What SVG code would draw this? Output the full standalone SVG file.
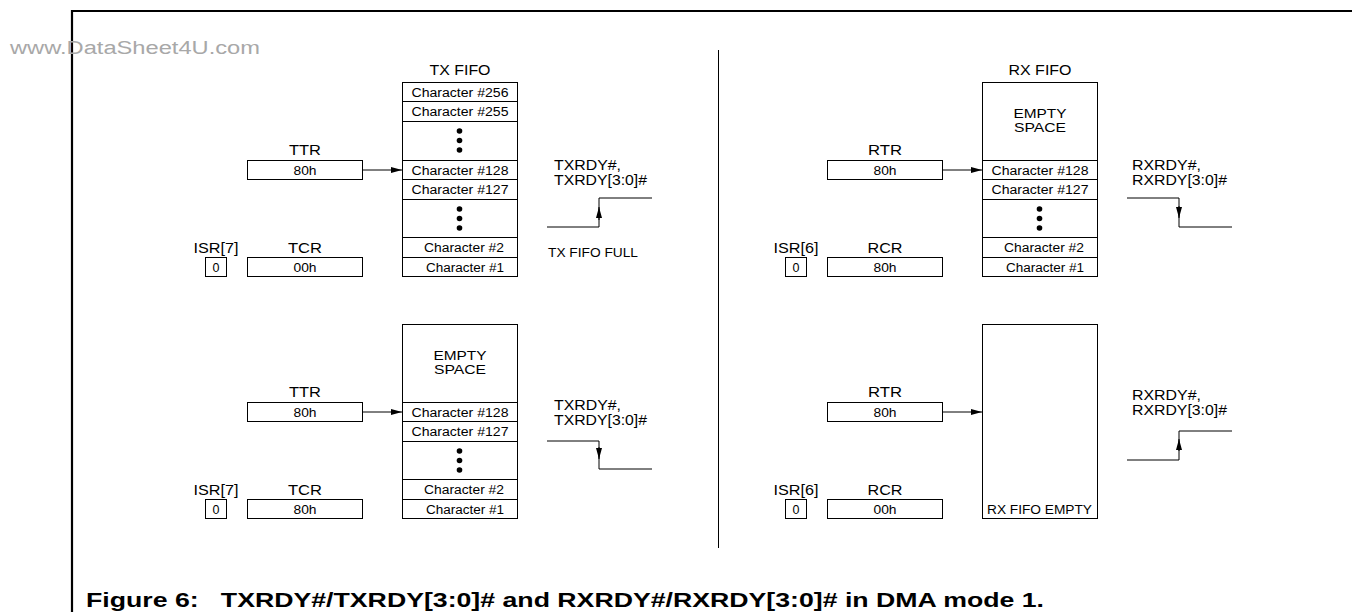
<svg xmlns="http://www.w3.org/2000/svg" width="1352" height="612" viewBox="0 0 1352 612">
<defs>
<style>
text{font-family:"Liberation Sans",Arial,Helvetica,sans-serif;fill:#000}
.box{fill:#fff;stroke:#000;stroke-width:1}
.ln{fill:none;stroke:#000;stroke-width:1}
.frame{fill:none;stroke:#000;stroke-width:2.2}
.ch{font-size:12.5px;text-anchor:middle}
.lbl{font-size:15px;text-anchor:middle}
.sig{font-size:15px}
.sm{font-size:12.5px}
.es{font-size:12px;text-anchor:middle}
.dot{fill:#000}
.wm{font-size:18px;fill:#a8a8a8}
.cap{font-size:21px;font-weight:bold;white-space:pre}
</style>
<marker id="ah" markerUnits="userSpaceOnUse" markerWidth="11" markerHeight="6" refX="11" refY="3" orient="auto"><path d="M0,0 L11,3 L0,6 z" fill="#000"/></marker>
</defs>
<rect x="0" y="0" width="1352" height="612" fill="#fff"/>
<path class="frame" d="M71,11 H1352 M72,10 V612"/>
<text class="wm" x="10" y="54" textLength="250" lengthAdjust="spacingAndGlyphs">www.DataSheet4U.com</text>
<line class="ln" x1="718.5" y1="50" x2="718.5" y2="548"/>

<!-- TX FIFO full (top left) -->
<g id="tx-top">
<text class="lbl" x="460" y="75" textLength="61" lengthAdjust="spacingAndGlyphs">TX FIFO</text>
<rect class="box" x="402.5" y="82.5" width="115" height="194"/>
<path class="ln" d="M402.5,101.5H517.5M402.5,121.5H517.5M402.5,160.5H517.5M402.5,179.5H517.5M402.5,199.5H517.5M402.5,237.5H517.5M402.5,257.5H517.5"/>
<text class="ch" x="460" y="96.5" textLength="97" lengthAdjust="spacingAndGlyphs">Character #256</text>
<text class="ch" x="460" y="116" textLength="97" lengthAdjust="spacingAndGlyphs">Character #255</text>
<circle class="dot" cx="459.5" cy="131" r="2.8"/><circle class="dot" cx="459.5" cy="140.5" r="2.8"/><circle class="dot" cx="459.5" cy="150" r="2.8"/>
<text class="ch" x="460" y="174.5" textLength="97" lengthAdjust="spacingAndGlyphs">Character #128</text>
<text class="ch" x="460" y="194" textLength="97" lengthAdjust="spacingAndGlyphs">Character #127</text>
<circle class="dot" cx="459.5" cy="209" r="2.8"/><circle class="dot" cx="459.5" cy="218.5" r="2.8"/><circle class="dot" cx="459.5" cy="228" r="2.8"/>
<text class="ch" x="464" y="252" textLength="80" lengthAdjust="spacingAndGlyphs">Character #2</text>
<text class="ch" x="465" y="271.5" textLength="78" lengthAdjust="spacingAndGlyphs">Character #1</text>
</g>
<g id="ttr-top">
<text class="lbl" x="305" y="155" textLength="32" lengthAdjust="spacingAndGlyphs">TTR</text>
<rect class="box" x="247.5" y="160.5" width="115" height="19"/>
<text class="ch" x="305" y="174.5" textLength="23" lengthAdjust="spacingAndGlyphs">80h</text>
</g>
<g id="tcr-top">
<text class="lbl" x="305" y="252.5" textLength="34" lengthAdjust="spacingAndGlyphs">TCR</text>
<rect class="box" x="247.5" y="257.5" width="115" height="19"/>
<text class="ch" x="305" y="271.5" textLength="23" lengthAdjust="spacingAndGlyphs">00h</text>
</g>
<g id="isr7-top">
<text class="lbl" x="216" y="252.5" textLength="45" lengthAdjust="spacingAndGlyphs">ISR[7]</text>
<rect class="box" x="205.5" y="257.5" width="21" height="19"/>
<text class="ch" x="216" y="271.5">0</text>
</g>
<g id="txrdy-top">
<text class="sig" x="554" y="170" textLength="67" lengthAdjust="spacingAndGlyphs">TXRDY#,</text>
<text class="sig" x="554" y="185" textLength="93" lengthAdjust="spacingAndGlyphs">TXRDY[3:0]#</text>
<polyline class="ln" points="547,227 599,227 599,198 652,198"/>
<path class="ln" d="M599,220V207" marker-end="url(#ah)"/>
<text class="sm" x="548" y="257" textLength="90" lengthAdjust="spacingAndGlyphs">TX FIFO FULL</text>
</g>

<!-- TX bottom -->
<g id="tx-bottom">
<rect class="box" x="402.5" y="324.5" width="115" height="194"/>
<path class="ln" d="M402.5,402.5H517.5M402.5,421.5H517.5M402.5,441.5H517.5M402.5,479.5H517.5M402.5,499.5H517.5"/>
<text class="es" x="460" y="360" textLength="53" lengthAdjust="spacingAndGlyphs">EMPTY</text>
<text class="es" x="460" y="374" textLength="52" lengthAdjust="spacingAndGlyphs">SPACE</text>
<text class="ch" x="460" y="416.5" textLength="97" lengthAdjust="spacingAndGlyphs">Character #128</text>
<text class="ch" x="460" y="436" textLength="97" lengthAdjust="spacingAndGlyphs">Character #127</text>
<circle class="dot" cx="459.5" cy="451" r="2.8"/><circle class="dot" cx="459.5" cy="460.5" r="2.8"/><circle class="dot" cx="459.5" cy="470" r="2.8"/>
<text class="ch" x="464" y="494" textLength="80" lengthAdjust="spacingAndGlyphs">Character #2</text>
<text class="ch" x="465" y="513.5" textLength="78" lengthAdjust="spacingAndGlyphs">Character #1</text>
</g>
<g id="ttr-bottom">
<text class="lbl" x="305" y="397" textLength="32" lengthAdjust="spacingAndGlyphs">TTR</text>
<rect class="box" x="247.5" y="402.5" width="115" height="19"/>
<text class="ch" x="305" y="416.5" textLength="23" lengthAdjust="spacingAndGlyphs">80h</text>
</g>
<g id="tcr-bottom">
<text class="lbl" x="305" y="494.5" textLength="34" lengthAdjust="spacingAndGlyphs">TCR</text>
<rect class="box" x="247.5" y="499.5" width="115" height="19"/>
<text class="ch" x="305" y="513.5" textLength="23" lengthAdjust="spacingAndGlyphs">80h</text>
</g>
<g id="isr7-bottom">
<text class="lbl" x="216" y="494.5" textLength="45" lengthAdjust="spacingAndGlyphs">ISR[7]</text>
<rect class="box" x="205.5" y="499.5" width="21" height="19"/>
<text class="ch" x="216" y="513.5">0</text>
</g>
<g id="txrdy-bottom">
<text class="sig" x="554" y="410" textLength="67" lengthAdjust="spacingAndGlyphs">TXRDY#,</text>
<text class="sig" x="554" y="425" textLength="93" lengthAdjust="spacingAndGlyphs">TXRDY[3:0]#</text>
<polyline class="ln" points="547,441 599,441 599,469 652,469"/>
<path class="ln" d="M599,447V459" marker-end="url(#ah)"/>
</g>

<!-- RX top -->
<g id="rx-top">
<text class="lbl" x="1040" y="75" textLength="63" lengthAdjust="spacingAndGlyphs">RX FIFO</text>
<rect class="box" x="982.5" y="82.5" width="115" height="194"/>
<path class="ln" d="M982.5,160.5H1097.5M982.5,179.5H1097.5M982.5,199.5H1097.5M982.5,237.5H1097.5M982.5,257.5H1097.5"/>
<text class="es" x="1040" y="118" textLength="53" lengthAdjust="spacingAndGlyphs">EMPTY</text>
<text class="es" x="1040" y="132" textLength="52" lengthAdjust="spacingAndGlyphs">SPACE</text>
<text class="ch" x="1040" y="174.5" textLength="97" lengthAdjust="spacingAndGlyphs">Character #128</text>
<text class="ch" x="1040" y="194" textLength="97" lengthAdjust="spacingAndGlyphs">Character #127</text>
<circle class="dot" cx="1039.5" cy="209" r="2.8"/><circle class="dot" cx="1039.5" cy="218.5" r="2.8"/><circle class="dot" cx="1039.5" cy="228" r="2.8"/>
<text class="ch" x="1044" y="252" textLength="80" lengthAdjust="spacingAndGlyphs">Character #2</text>
<text class="ch" x="1045" y="271.5" textLength="78" lengthAdjust="spacingAndGlyphs">Character #1</text>
</g>
<g id="rtr-top">
<text class="lbl" x="885" y="155" textLength="34" lengthAdjust="spacingAndGlyphs">RTR</text>
<rect class="box" x="827.5" y="160.5" width="115" height="19"/>
<text class="ch" x="885" y="174.5" textLength="23" lengthAdjust="spacingAndGlyphs">80h</text>
</g>
<g id="rcr-top">
<text class="lbl" x="885" y="252.5" textLength="35" lengthAdjust="spacingAndGlyphs">RCR</text>
<rect class="box" x="827.5" y="257.5" width="115" height="19"/>
<text class="ch" x="885" y="271.5" textLength="23" lengthAdjust="spacingAndGlyphs">80h</text>
</g>
<g id="isr6-top">
<text class="lbl" x="796" y="252.5" textLength="45" lengthAdjust="spacingAndGlyphs">ISR[6]</text>
<rect class="box" x="785.5" y="257.5" width="21" height="19"/>
<text class="ch" x="796" y="271.5">0</text>
</g>
<g id="rxrdy-top">
<text class="sig" x="1132" y="170" textLength="69" lengthAdjust="spacingAndGlyphs">RXRDY#,</text>
<text class="sig" x="1132" y="185" textLength="95" lengthAdjust="spacingAndGlyphs">RXRDY[3:0]#</text>
<polyline class="ln" points="1127,198 1179,198 1179,227 1232,227"/>
<path class="ln" d="M1179,206V218" marker-end="url(#ah)"/>
</g>

<!-- RX bottom -->
<g id="rx-bottom">
<rect class="box" x="982.5" y="324.5" width="115" height="194"/>
<text class="sm" x="987" y="514" textLength="105" lengthAdjust="spacingAndGlyphs">RX FIFO EMPTY</text>
</g>
<g id="rtr-bottom">
<text class="lbl" x="885" y="397" textLength="34" lengthAdjust="spacingAndGlyphs">RTR</text>
<rect class="box" x="827.5" y="402.5" width="115" height="19"/>
<text class="ch" x="885" y="416.5" textLength="23" lengthAdjust="spacingAndGlyphs">80h</text>
</g>
<g id="rcr-bottom">
<text class="lbl" x="885" y="494.5" textLength="35" lengthAdjust="spacingAndGlyphs">RCR</text>
<rect class="box" x="827.5" y="499.5" width="115" height="19"/>
<text class="ch" x="885" y="513.5" textLength="23" lengthAdjust="spacingAndGlyphs">00h</text>
</g>
<g id="isr6-bottom">
<text class="lbl" x="796" y="494.5" textLength="45" lengthAdjust="spacingAndGlyphs">ISR[6]</text>
<rect class="box" x="785.5" y="499.5" width="21" height="19"/>
<text class="ch" x="796" y="513.5">0</text>
</g>
<g id="rxrdy-bottom">
<text class="sig" x="1132" y="400" textLength="69" lengthAdjust="spacingAndGlyphs">RXRDY#,</text>
<text class="sig" x="1132" y="415" textLength="95" lengthAdjust="spacingAndGlyphs">RXRDY[3:0]#</text>
<polyline class="ln" points="1127,460 1179,460 1179,431 1232,431"/>
<path class="ln" d="M1179,451V439" marker-end="url(#ah)"/>
</g>

<g id="connectors">
<path class="ln" d="M362.5,170H402" marker-end="url(#ah)"/>
<path class="ln" d="M362.5,412H402" marker-end="url(#ah)"/>
<path class="ln" d="M942.5,170H982" marker-end="url(#ah)"/>
<path class="ln" d="M942.5,412H982" marker-end="url(#ah)"/>
</g>

<text class="cap" x="86" y="607" textLength="958" lengthAdjust="spacingAndGlyphs">Figure 6:   TXRDY#/TXRDY[3:0]# and RXRDY#/RXRDY[3:0]# in DMA mode 1.</text>
</svg>
